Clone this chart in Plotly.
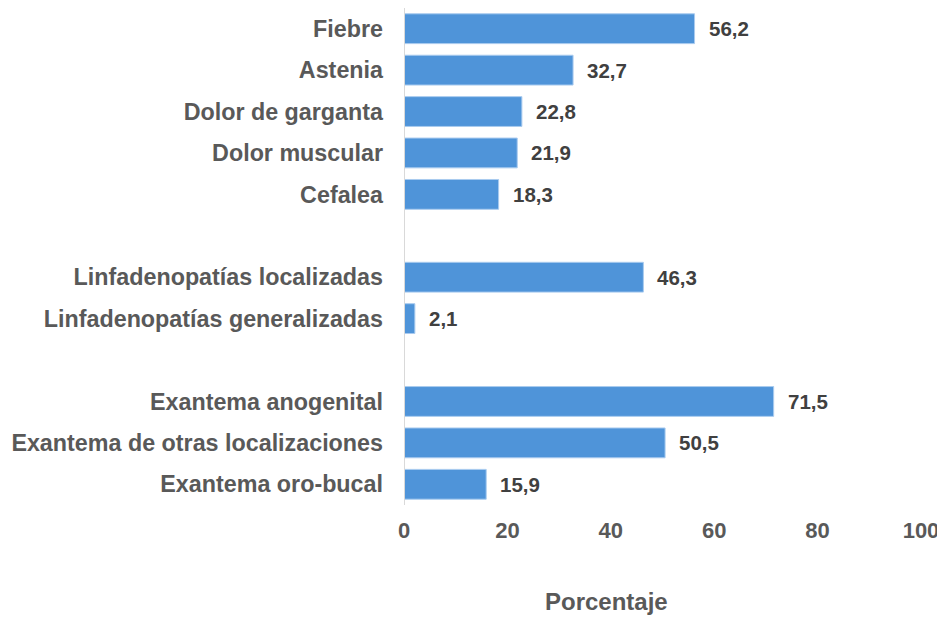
import plotly.graph_objects as go

groups = [
    ["Fiebre", "Astenia", "Dolor de garganta", "Dolor muscular", "Cefalea"],
    ["Linfadenopatías localizadas", "Linfadenopatías generalizadas"],
    ["Exantema anogenital", "Exantema de otras localizaciones", "Exantema oro-bucal"],
]
values = [
    [56.2, 32.7, 22.8, 21.9, 18.3],
    [46.3, 2.1],
    [71.5, 50.5, 15.9],
]
x_ticks = [0, 20, 40, 60, 80, 100]
x_title = "Porcentaje"

FONT = "Liberation Sans, Arial, sans-serif"

cats, vals, pos = [], [], []
p = 0
for g, v in zip(groups, values):
    for c, val in zip(g, v):
        cats.append(c)
        vals.append(val)
        pos.append(p)
        p += 1
    p += 1
last = pos[-1]

fig = go.Figure()
fig.add_trace(go.Bar(
    x=vals, y=pos, orientation="h",
    marker=dict(color="#4F94D9", line=dict(color="#A9CBEF", width=1)),
    width=0.72,
    hoverinfo="x+y",
))

for v, yp in zip(vals, pos):
    fig.add_annotation(
        x=v, y=yp, text=f"{v:.1f}".replace(".", ","), showarrow=False,
        xanchor="left", yanchor="middle", xshift=12,
        font=dict(family=FONT, size=20.5, color="#404040", weight="bold"),
    )

fig.add_annotation(
    xref="paper", yref="paper", x=(598 - 396) / 517, y=-(593 - 497) / 497,
    xanchor="center", yanchor="middle", text=x_title, showarrow=False,
    font=dict(family=FONT, size=24, color="#595959", weight="bold"),
)

fig.update_layout(
    width=937, height=609,
    margin=dict(l=396, r=24, t=0, b=112),
    plot_bgcolor="white", paper_bgcolor="white",
    showlegend=False,
    font=dict(family=FONT, color="#595959"),
    xaxis=dict(
        range=[0, 100], tickvals=x_ticks, ticktext=[str(t) for t in x_ticks],
        showgrid=False, zeroline=False, showline=False,
        tickfont=dict(size=22, color="#595959", weight="bold"),
        ticklabelstandoff=10,
    ),
    yaxis=dict(
        range=[last + 0.5, -0.5], tickvals=pos, ticktext=cats,
        showgrid=False, zeroline=False, showline=False,
        tickfont=dict(size=23.3, color="#595959", weight="bold"),
        ticklabelstandoff=20,
    ),
    shapes=[dict(type="line", xref="x", yref="paper", x0=0, x1=0, y0=0, y1=1,
                 line=dict(color="#D9D9D9", width=2))],
)

fig.write_html("out.html")
